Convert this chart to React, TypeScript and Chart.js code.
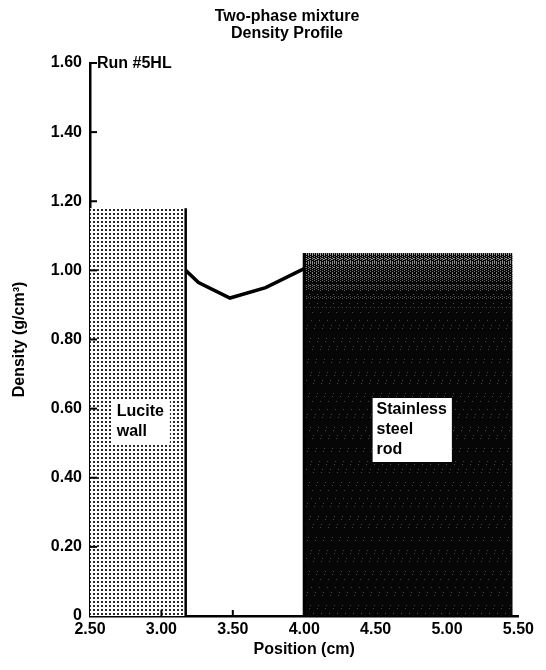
import React, { useEffect, useRef } from "react";
import { Chart, registerables } from "chart.js";

Chart.register(...registerables);

// ---- data ----
const positions = [3.17, 3.26, 3.48, 3.73, 4.0];
const densities = [1.0, 0.965, 0.92, 0.95, 1.005];

const luciteX = [2.5, 3.17];
const luciteTop = 1.18;

const rodX = [4.0, 5.46];
const rodTop = 1.05;

const titleLines = ["Two-phase mixture", "Density Profile"];
const runLabel = "Run #5HL";
const luciteLabel = ["Lucite", "wall"];
const rodLabel = ["Stainless", "steel", "rod"];
const xTitle = "Position (cm)";
const yTitle = "Density (g/cm\u00B3)";

const FONT = "'Liberation Sans', Arial, Helvetica, sans-serif";

function makeDotPattern(): CanvasPattern | string {
  const c = document.createElement("canvas");
  c.width = 4;
  c.height = 4;
  const g = c.getContext("2d");
  if (!g) return "#bbb";
  g.fillStyle = "#fff";
  g.fillRect(0, 0, 4, 4);
  g.fillStyle = "#2a2a2a";
  g.fillRect(1, 1, 2, 2);
  const p = g.createPattern(c, "repeat");
  return p || "#bbb";
}

// dark steel texture: lighter streaky band near the top, nearly black below
const patternCache: { key: string; pat: CanvasPattern | string | null } = { key: "", pat: null };
function makeDarkPattern(topPx: number, totalH: number): CanvasPattern | string {
  const key = `${Math.round(topPx)}_${totalH}`;
  if (patternCache.key === key && patternCache.pat) return patternCache.pat;
  const w = 8;
  const c = document.createElement("canvas");
  c.width = w;
  c.height = Math.max(1, Math.ceil(totalH));
  const g = c.getContext("2d");
  if (!g) return "#111";
  g.fillStyle = "#060606";
  g.fillRect(0, 0, w, c.height);
  const t = Math.round(topPx);
  for (let y = t; y < t + 55; y++) {
    const k = (y - t) / 55; // 0 at top, 1 at bottom of band
    for (let x = 0; x < w; x++) {
      const h = ((x * 73 + y * 151) % 97) / 97;
      if ((x % 2 === 0 && h > 0.25 + 0.7 * k) || h > 0.88 + 0.12 * k) {
        const v = Math.round(150 - 80 * k);
        g.fillStyle = `rgb(${v},${v},${v})`;
        g.fillRect(x, y, 1, 1);
      }
    }
  }
  for (let y = t + 55; y < c.height; y++) {
    for (let x = 0; x < w; x++) {
      const h = ((x * 37 + y * 101) % 89) / 89;
      if (h > 0.975) {
        g.fillStyle = "#444";
        g.fillRect(x, y, 1, 1);
      }
    }
  }
  const p = g.createPattern(c, "repeat-x");
  patternCache.key = key;
  patternCache.pat = p || "#111";
  return patternCache.pat;
}

const annotationPlugin = {
  id: "annotations",
  afterDatasetsDraw(chart: any) {
    const { ctx, scales } = chart;
    const xs = scales.x;
    const ys = scales.y;
    const area = chart.chartArea;
    ctx.save();
    // inward tick marks
    ctx.strokeStyle = "#000";
    ctx.lineWidth = 2;
    ys.ticks.forEach((t: any) => {
      if (t.value === 0) return;
      const py = ys.getPixelForValue(t.value);
      ctx.beginPath();
      ctx.moveTo(area.left, py);
      ctx.lineTo(area.left + 7, py);
      ctx.stroke();
    });
    xs.ticks.forEach((t: any) => {
      if (t.value === xs.min || t.value === xs.max) return;
      const px = xs.getPixelForValue(t.value);
      ctx.beginPath();
      ctx.moveTo(px, area.bottom);
      ctx.lineTo(px, area.bottom - 6);
      ctx.stroke();
    });

    // title
    ctx.fillStyle = "#000";
    ctx.font = `bold 16px ${FONT}`;
    ctx.textAlign = "center";
    ctx.textBaseline = "alphabetic";
    ctx.fillText(titleLines[0], 279, 13);
    ctx.fillText(titleLines[1], 279, 30);

    // run label
    ctx.textAlign = "left";
    ctx.fillText(runLabel, area.left + 7, 60);

    // labelled boxes
    const drawBox = (lines: string[], xv: number, yv: number, padR: number) => {
      const tx = xs.getPixelForValue(xv);
      const ty = ys.getPixelForValue(yv);
      const lh = 20;
      let w = 0;
      lines.forEach((l) => (w = Math.max(w, ctx.measureText(l).width)));
      ctx.fillStyle = "#fff";
      ctx.fillRect(tx - 4, ty - 12, w + 4 + padR, (lines.length - 1) * lh + 24);
      ctx.fillStyle = "#000";
      ctx.textBaseline = "middle";
      lines.forEach((l, i) => ctx.fillText(l, tx, ty + i * lh));
    };
    ctx.font = `bold 16px ${FONT}`;
    drawBox(luciteLabel, 2.6875, 0.59, 6);
    drawBox(rodLabel, 4.507, 0.596, 5);
    ctx.restore();
  },
};

export default function App() {
  const ref = useRef<HTMLCanvasElement | null>(null);

  useEffect(() => {
    if (!ref.current) return;
    const dots = makeDotPattern();
    Chart.defaults.font.family = FONT;
    Chart.defaults.color = "#000";

    const rodFill = (c: any) => {
      const ch = c.chart;
      const ys = ch.scales && ch.scales.y;
      if (!ys) return "#111";
      return makeDarkPattern(ys.getPixelForValue(rodTop), ch.height);
    };

    const chart = new Chart(ref.current, {
      type: "scatter",
      data: {
        datasets: [
          {
            label: "Density",
            data: positions.map((x, i) => ({ x, y: densities[i] })),
            showLine: true,
            borderColor: "#000",
            borderWidth: 3.5,
            pointRadius: 0,
            tension: 0,
            fill: false,
            order: 0,
          },
          {
            label: "Lucite edge",
            data: [
              { x: luciteX[1], y: 0 },
              { x: luciteX[1], y: luciteTop },
            ],
            showLine: true,
            borderColor: "#000",
            borderWidth: 2.5,
            pointRadius: 0,
            fill: false,
            order: 0,
          },
          {
            label: "Rod edge",
            data: [
              { x: rodX[0], y: 0 },
              { x: rodX[0], y: rodTop },
            ],
            showLine: true,
            borderColor: "#000",
            borderWidth: 3,
            pointRadius: 0,
            fill: false,
            order: 0,
          },
          {
            label: "Lucite wall",
            data: luciteX.map((x) => ({ x, y: luciteTop })),
            showLine: true,
            borderWidth: 0,
            borderColor: "rgba(0,0,0,0)",
            backgroundColor: dots as any,
            pointRadius: 0,
            fill: "origin",
            order: 1,
          },
          {
            label: "Stainless steel rod",
            data: rodX.map((x) => ({ x, y: rodTop })),
            showLine: true,
            borderWidth: 0,
            borderColor: "rgba(0,0,0,0)",
            backgroundColor: rodFill as any,
            pointRadius: 0,
            fill: "origin",
            order: 1,
          },
        ],
      },
      options: {
        responsive: false,
        animation: false,
        layout: { padding: { top: 55, right: 16, bottom: 0, left: 0 } },
        plugins: {
          legend: { display: false },
          tooltip: { enabled: false },
          title: { display: false },
        },
        scales: {
          x: {
            type: "linear",
            min: 2.5,
            max: 5.5,
            afterFit: (s: any) => {
              s.height = 46;
            },
            ticks: {
              stepSize: 0.5,
              padding: 4,
              maxRotation: 0,
              font: { size: 16, weight: "bold" },
              callback: (v: any) => Number(v).toFixed(2),
            },
            grid: { display: true, drawOnChartArea: false, drawTicks: false },
            border: { display: true, color: "#000", width: 2.5 },
            title: {
              display: true,
              text: xTitle,
              font: { size: 16, weight: "bold" },
              padding: { top: 0, bottom: 3 },
            },
          },
          y: {
            type: "linear",
            min: 0,
            max: 1.6,
            afterFit: (s: any) => {
              s.width = 82;
            },
            ticks: {
              stepSize: 0.2,
              padding: 8,
              font: { size: 16, weight: "bold" },
              callback: (v: any) => (Number(v) === 0 ? "0" : Number(v).toFixed(2)),
            },
            grid: { display: true, drawOnChartArea: false, drawTicks: false },
            border: { display: true, color: "#000", width: 2.5 },
            title: {
              display: true,
              text: yTitle,
              font: { size: 16, weight: "bold" },
              padding: { top: 2, bottom: 0 },
            },
          },
        },
      },
      plugins: [annotationPlugin],
    } as any);

    return () => chart.destroy();
  }, []);

  return (
    <div style={{ width: 530, height: 654 }}>
      <canvas ref={ref} width={530} height={654} style={{ display: "block" }} />
    </div>
  );
}
